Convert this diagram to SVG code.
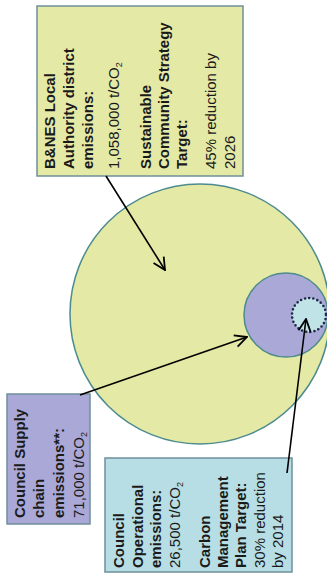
<svg xmlns="http://www.w3.org/2000/svg" width="327" height="574" viewBox="0 0 327 574">
<defs>
<style>
.t{font-family:"Liberation Sans",Arial,sans-serif;font-size:15px;fill:#1a1a1a}
.b{font-weight:bold}
.sub{font-size:9px}
.box{stroke:#6f8f9a;stroke-width:1.5}
.conn{stroke:#000;stroke-width:1.6;fill:none;marker-end:url(#arr)}
</style>
<marker id="arr" viewBox="0 0 12 12" refX="11" refY="6" markerWidth="9" markerHeight="9" markerUnits="strokeWidth" orient="auto">
<path d="M1,1 L11,6 L1,11" fill="none" stroke="#000" stroke-width="1.5"/>
</marker>
</defs>
<rect width="327" height="574" fill="#fff"/>
<g id="district-circle">
<circle cx="200" cy="314" r="130" fill="#e4e9a6" stroke="#4d8b8e" stroke-width="1.5"/>
</g>
<g id="supply-circle">
<circle cx="286" cy="315" r="42" fill="#aaa8d6" stroke="#4d8b8e" stroke-width="1.5"/>
</g>
<g id="operational-circle">
<circle cx="309" cy="315" r="17" fill="#bfe3e6" stroke="#1f2848" stroke-width="2.6" stroke-dasharray="0 4.2" stroke-linecap="round"/>
</g>
<g id="district-box">
<rect class="box" x="37" y="6" width="206" height="170" fill="#e4e9a6"/>
<text class="t b" transform="translate(55,169) rotate(-90)">B&amp;NES Local</text>
<text class="t b" transform="translate(74,169) rotate(-90)">Authority district</text>
<text class="t b" transform="translate(93,169) rotate(-90)">emissions:</text>
<text class="t" transform="translate(119,169) rotate(-90)">1,058,000 t/CO<tspan class="sub" dy="3">2</tspan></text>
<text class="t b" transform="translate(151,169) rotate(-90)">Sustainable</text>
<text class="t b" transform="translate(169,169) rotate(-90)">Community Strategy</text>
<text class="t b" transform="translate(187,169) rotate(-90)">Target:</text>
<text class="t" transform="translate(216,169) rotate(-90)">45% reduction by</text>
<text class="t" transform="translate(235,169) rotate(-90)">2026</text>
</g>
<g id="supply-box">
<rect class="box" x="7" y="394" width="83" height="130" fill="#aaa8d6"/>
<text class="t b" transform="translate(25,518) rotate(-90)">Council Supply</text>
<text class="t b" transform="translate(44,518) rotate(-90)">chain</text>
<text class="t b" transform="translate(64,518) rotate(-90)">emissions**:</text>
<text class="t" transform="translate(84,518) rotate(-90)">71,000 t/CO<tspan class="sub" dy="3">2</tspan></text>
</g>
<g id="operational-box">
<rect class="box" x="105" y="458" width="187" height="114" fill="#b7dee4"/>
<text class="t b" transform="translate(124,568) rotate(-90)">Council</text>
<text class="t b" transform="translate(143,568) rotate(-90)">Operational</text>
<text class="t b" transform="translate(161,568) rotate(-90)">emissions:</text>
<text class="t" transform="translate(180,568) rotate(-90)">26,500 t/CO<tspan class="sub" dy="3">2</tspan></text>
<text class="t b" transform="translate(210,568) rotate(-90)">Carbon</text>
<text class="t b" transform="translate(228,568) rotate(-90)">Management</text>
<text class="t b" transform="translate(246,568) rotate(-90)">Plan Target:</text>
<text class="t" transform="translate(265,568) rotate(-90)">30% reduction</text>
<text class="t" transform="translate(283,568) rotate(-90)">by 2014</text>
</g>
<g id="connectors">
<line class="conn" x1="106" y1="176" x2="165" y2="270"/>
<line class="conn" x1="80" y1="395" x2="247" y2="337"/>
<line class="conn" x1="287" y1="473" x2="306" y2="319"/>
</g>
</svg>
